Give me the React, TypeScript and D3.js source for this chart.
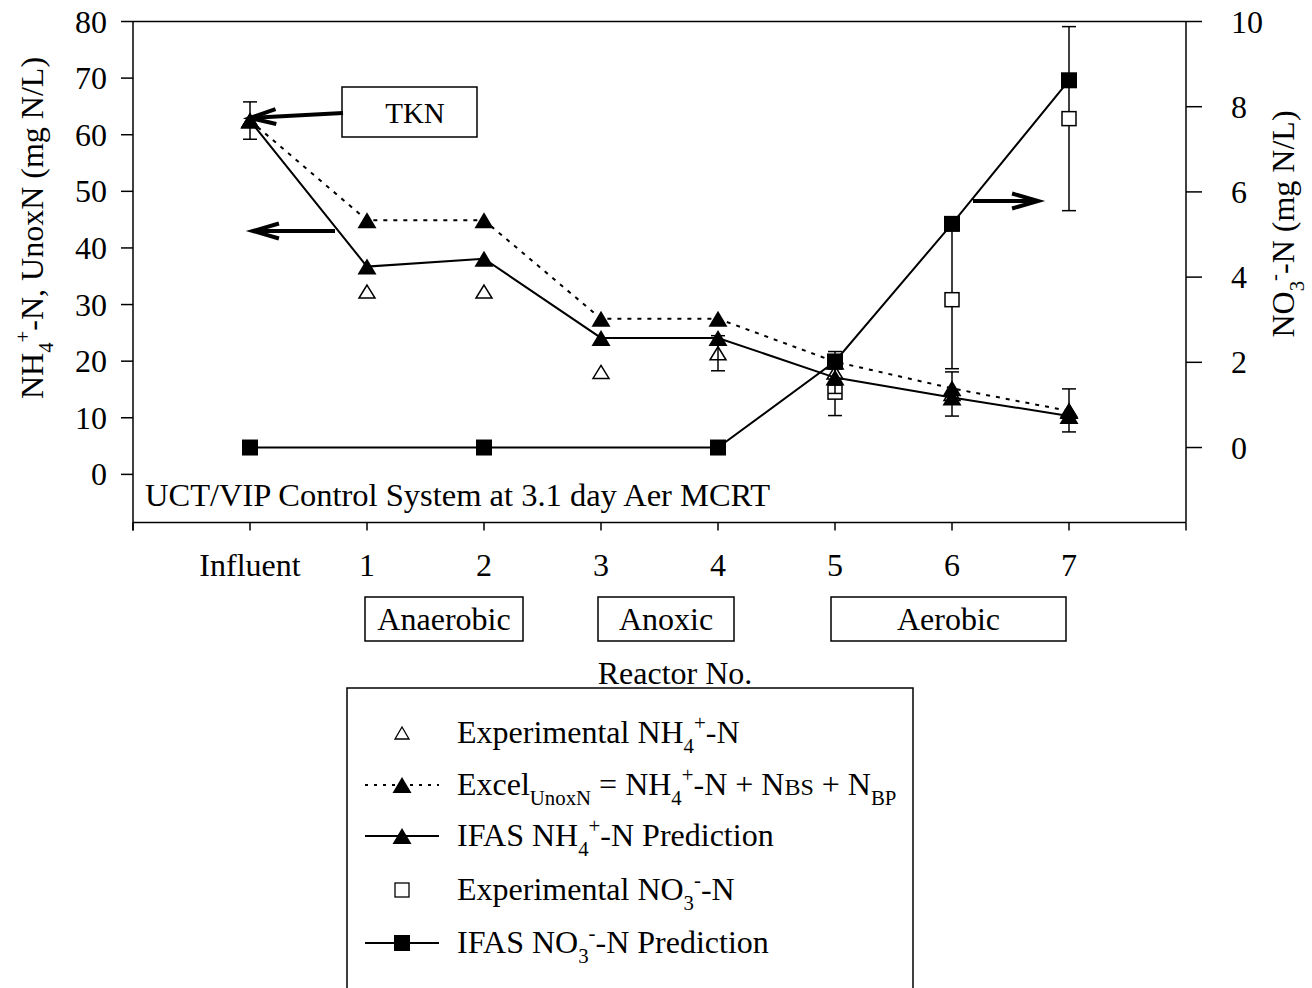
import React from 'react';
import * as d3 from 'd3';

// ---- data ----
const categories = ['Influent', '1', '2', '3', '4', '5', '6', '7'];
const xPositions = [1, 2, 3, 4, 5, 6, 7, 8];
const expNH4 = [62.5, 32.3, 32.3, 18.1, 21.4, 18.0, 14.2, 11.3];
const expNH4Err = [3.3, 0, 0, 0, 3.1, 3.7, 3.9, 3.8];
const excelUnoxN = [62.5, 44.9, 44.9, 27.5, 27.5, 19.9, 15.2, 11.2];
const ifasNH4 = [62.5, 36.7, 38.1, 24.1, 24.1, 17.1, 13.6, 10.3];
const expNO3: (number | null)[] = [null, null, null, null, null, 1.3, 3.47, 7.72];
const expNO3Err = [0, 0, 0, 0, 0, 0.55, 1.62, 2.16];
const ifasNO3: (number | null)[] = [0, null, 0, null, 0, 2.02, 5.25, 8.62];
const leftTicks = [0, 10, 20, 30, 40, 50, 60, 70, 80];
const rightTicks = [0, 2, 4, 6, 8, 10];
const xTicks = [0, 1, 2, 3, 4, 5, 6, 7, 8, 9];
const zoneLabels = ['Anaerobic', 'Anoxic', 'Aerobic'];

const FONT = '"Liberation Serif", "Times New Roman", Times, serif';
const FS = 32;

type Part = { t: string; k?: 'sub' | 'sup' | 'small' };

function Rich({ parts, fs = FS, ...props }: any) {
  let off = 0;
  const out: any[] = [];
  parts.forEach((p: Part, i: number) => {
    let target = 0;
    let size = fs;
    if (p.k === 'sub') { target = fs * 0.3; size = fs * 0.65; }
    else if (p.k === 'sup') { target = -fs * 0.42; size = fs * 0.65; }
    else if (p.k === 'small') { size = fs * 0.75; }
    const dy = target - off;
    off = target;
    out.push(<tspan key={i} dy={dy} fontSize={size}>{p.t}</tspan>);
  });
  return <text {...props} fontSize={fs} style={{ whiteSpace: 'pre' }}>{out}</text>;
}

function tri(cx: number, cy: number, w: number, h: number) {
  return `M${cx},${cy - h / 2}L${cx + w / 2},${cy + h / 2}L${cx - w / 2},${cy + h / 2}Z`;
}

function Arrow({ x1, y1, x2, y2 }: any) {
  const ang = Math.atan2(y2 - y1, x2 - x1);
  const L = 27, sp = 0.28;
  const a1 = [x2 - L * Math.cos(ang - sp), y2 - L * Math.sin(ang - sp)];
  const a2 = [x2 - L * Math.cos(ang + sp), y2 - L * Math.sin(ang + sp)];
  return (
    <g stroke="#000" strokeWidth={4} fill="none" strokeLinecap="butt">
      <line x1={x1} y1={y1} x2={x2} y2={y2} />
      <path d={`M${a1[0]},${a1[1]}L${x2},${y2}L${a2[0]},${a2[1]}`} />
    </g>
  );
}

export default function App() {
  const left = 133, right = 1186, top = 21.5, bottom = 522.5;
  const x = d3.scaleLinear().domain([0, 9]).range([left, right]);
  const yL = d3.scaleLinear().domain([-8.5, 80]).range([bottom, top]);
  const yR = d3.scaleLinear().domain([-1.76, 10]).range([bottom, top]);

  const lineL = d3.line<number>().x((_, i) => x(xPositions[i])).y((d) => yL(d));
  const noPts = ifasNO3.map((v, i) => ({ v, i })).filter((d) => d.v !== null) as { v: number; i: number }[];
  const lineR = d3.line<{ v: number; i: number }>().x((d) => x(xPositions[d.i])).y((d) => yR(d.v));

  const capW = 7;
  const legendRows = [733, 785, 836, 890, 943];
  const zoneBoxes = [
    { x: 365, w: 158, cx: 444 },
    { x: 598, w: 136, cx: 666 },
    { x: 831, w: 235, cx: 948.5 },
  ];

  return (
    <svg width={1312} height={988} style={{ position: 'absolute', left: 0, top: 0, background: '#fff' }} fontFamily={FONT}>
      <rect x={0} y={0} width={1312} height={988} fill="#fff" />
      {/* frame */}
      <g stroke="#000" strokeWidth={1.5} fill="none">
        <line x1={left} y1={top} x2={right} y2={top} />
        <line x1={left} y1={top} x2={left} y2={bottom + 8} />
        <line x1={right} y1={top} x2={right} y2={bottom} />
        <line x1={left} y1={bottom} x2={right} y2={bottom} />
        {leftTicks.map((t) => <line key={'lt' + t} x1={left - 12} x2={left} y1={yL(t)} y2={yL(t)} />)}
        {rightTicks.map((t) => <line key={'rt' + t} x1={right} x2={right + 16} y1={yR(t)} y2={yR(t)} />)}
        {xTicks.map((t) => <line key={'xt' + t} x1={x(t)} x2={x(t)} y1={bottom} y2={bottom + 8} />)}
      </g>
      {leftTicks.map((t) => (
        <text key={'ll' + t} x={107} y={yL(t) + 11} textAnchor="end" fontSize={FS}>{t}</text>
      ))}
      {rightTicks.map((t) => (
        <text key={'rl' + t} x={1231} y={yR(t) + 11} textAnchor="start" fontSize={FS}>{t}</text>
      ))}
      {categories.map((c, i) => (
        <text key={'xl' + c} x={x(xPositions[i])} y={576} textAnchor="middle" fontSize={FS}>{c}</text>
      ))}

      {/* axis titles */}
      <Rich transform="translate(43,228) rotate(-90)" textAnchor="middle"
        parts={[{ t: 'NH' }, { t: '4', k: 'sub' }, { t: '+', k: 'sup' }, { t: '-N, UnoxN (mg N/L)' }]} />
      <Rich transform="translate(1294,224) rotate(-90)" textAnchor="middle"
        parts={[{ t: 'NO' }, { t: '3', k: 'sub' }, { t: '-', k: 'sup' }, { t: '-N (mg N/L)' }]} />
      <text x={675} y={684} textAnchor="middle" fontSize={FS}>Reactor No.</text>

      {/* zone boxes */}
      <g stroke="#000" strokeWidth={1.5} fill="none">
        {zoneBoxes.map((b, i) => <rect key={'zb' + i} x={b.x} y={597} width={b.w} height={44} />)}
      </g>
      {zoneBoxes.map((b, i) => (
        <text key={'zt' + i} x={b.cx} y={630} textAnchor="middle" fontSize={FS}>{zoneLabels[i]}</text>
      ))}

      <text x={145} y={506} fontSize={32.5}>UCT/VIP Control System at 3.1 day Aer MCRT</text>

      {/* experimental NO3 */}
      <g stroke="#000" strokeWidth={1.5}>
        {expNO3.map((v, i) => v === null ? null : (
          <g key={'en' + i}>
            <line x1={x(xPositions[i])} x2={x(xPositions[i])} y1={yR(v - expNO3Err[i])} y2={yR(v + expNO3Err[i])} />
            <line x1={x(xPositions[i]) - capW} x2={x(xPositions[i]) + capW} y1={yR(v - expNO3Err[i])} y2={yR(v - expNO3Err[i])} />
            <line x1={x(xPositions[i]) - capW} x2={x(xPositions[i]) + capW} y1={yR(v + expNO3Err[i])} y2={yR(v + expNO3Err[i])} />
            <rect x={x(xPositions[i]) - 7} y={yR(v) - 7} width={14} height={14} fill="#fff" />
          </g>
        ))}
      </g>
      {/* experimental NH4 */}
      <g stroke="#000" strokeWidth={1.5} fill="none">
        {expNH4.map((v, i) => (
          <g key={'eh' + i}>
            {expNH4Err[i] > 0 && (
              <>
                <line x1={x(xPositions[i])} x2={x(xPositions[i])} y1={yL(v - expNH4Err[i])} y2={yL(v + expNH4Err[i])} />
                <line x1={x(xPositions[i]) - capW} x2={x(xPositions[i]) + capW} y1={yL(v - expNH4Err[i])} y2={yL(v - expNH4Err[i])} />
                <line x1={x(xPositions[i]) - capW} x2={x(xPositions[i]) + capW} y1={yL(v + expNH4Err[i])} y2={yL(v + expNH4Err[i])} />
              </>
            )}
            <path d={tri(x(xPositions[i]), yL(v), 16, 13)} />
          </g>
        ))}
      </g>
      {/* Excel UnoxN */}
      <path d={lineL(excelUnoxN) || ''} fill="none" stroke="#000" strokeWidth={2} strokeDasharray="4,6" />
      {excelUnoxN.map((v, i) => <path key={'ex' + i} d={tri(x(xPositions[i]), yL(v), 19, 16)} fill="#000" />)}
      {/* IFAS NH4 */}
      <path d={lineL(ifasNH4) || ''} fill="none" stroke="#000" strokeWidth={2} />
      {ifasNH4.map((v, i) => <path key={'if' + i} d={tri(x(xPositions[i]), yL(v), 19, 16)} fill="#000" />)}
      {/* IFAS NO3 */}
      <path d={lineR(noPts) || ''} fill="none" stroke="#000" strokeWidth={2} />
      {noPts.map((d) => <rect key={'in' + d.i} x={x(xPositions[d.i]) - 8} y={yR(d.v) - 8} width={16} height={16} fill="#000" />)}

      {/* annotations */}
      <rect x={342} y={87} width={135} height={50} fill="#fff" stroke="#000" strokeWidth={1.5} />
      <text x={415} y={123} textAnchor="middle" fontSize={29}>TKN</text>
      <Arrow x1={343} y1={113} x2={250} y2={118} />
      <Arrow x1={335} y1={231} x2={253} y2={231} />
      <Arrow x1={973} y1={201} x2={1038} y2={201} />

      {/* legend */}
      <rect x={347} y={688} width={566} height={320} fill="none" stroke="#000" strokeWidth={1.5} />
      <path d={tri(402, legendRows[0], 14, 12)} fill="none" stroke="#000" strokeWidth={1.3} />
      <line x1={365} x2={439} y1={legendRows[1]} y2={legendRows[1]} stroke="#000" strokeWidth={2} strokeDasharray="3,6" />
      <path d={tri(402, legendRows[1], 19, 16)} fill="#000" />
      <line x1={365} x2={439} y1={legendRows[2]} y2={legendRows[2]} stroke="#000" strokeWidth={2} />
      <path d={tri(402, legendRows[2], 19, 16)} fill="#000" />
      <rect x={395} y={legendRows[3] - 7} width={14} height={14} fill="none" stroke="#000" strokeWidth={1.3} />
      <line x1={365} x2={439} y1={legendRows[4]} y2={legendRows[4]} stroke="#000" strokeWidth={2} />
      <rect x={394} y={legendRows[4] - 8} width={16} height={16} fill="#000" />

      <Rich x={457} y={legendRows[0] + 10}
        parts={[{ t: 'Experimental NH' }, { t: '4', k: 'sub' }, { t: '+', k: 'sup' }, { t: '-N' }]} />
      <Rich x={457} y={legendRows[1] + 10}
        parts={[{ t: 'Excel' }, { t: 'UnoxN', k: 'sub' }, { t: ' = NH' }, { t: '4', k: 'sub' }, { t: '+', k: 'sup' }, { t: '-N + N' }, { t: 'BS', k: 'small' }, { t: ' + N' }, { t: 'BP', k: 'sub' }]} />
      <Rich x={457} y={legendRows[2] + 10}
        parts={[{ t: 'IFAS NH' }, { t: '4', k: 'sub' }, { t: '+', k: 'sup' }, { t: '-N Prediction' }]} />
      <Rich x={457} y={legendRows[3] + 10}
        parts={[{ t: 'Experimental NO' }, { t: '3', k: 'sub' }, { t: '-', k: 'sup' }, { t: '-N' }]} />
      <Rich x={457} y={legendRows[4] + 10}
        parts={[{ t: 'IFAS NO' }, { t: '3', k: 'sub' }, { t: '-', k: 'sup' }, { t: '-N Prediction' }]} />
    </svg>
  );
}
